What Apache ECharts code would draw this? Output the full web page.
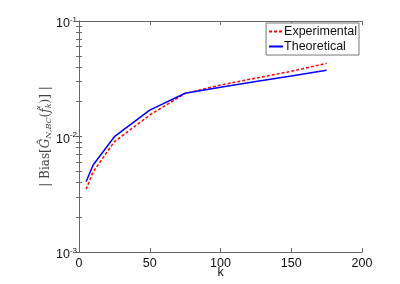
<!DOCTYPE html>
<html>
<head>
<meta charset="utf-8">
<script src="https://cdn.jsdelivr.net/npm/echarts@6/dist/echarts.min.js"></script>
<style>html,body{margin:0;padding:0;background:#fff;}#c{width:400px;height:284px;}</style>
</head>
<body>
<div id="c"></div>
<script>
const kValues = [5, 10, 25, 50, 75, 100, 125, 150, 175];
const experimental = [0.00349, 0.00495, 0.00902, 0.01535, 0.0236, 0.0279, 0.0320, 0.0367, 0.0430];
const theoretical = [0.00406, 0.00566, 0.00996, 0.01694, 0.02366, 0.0267, 0.0299, 0.0334, 0.0375];
const yMajorTicks = [0.001, 0.01, 0.1];
const xTicks = [0, 50, 100, 150, 200];

const yMinorTicks = [];
[0.001, 0.01].forEach(b => { for (let i = 1; i <= 10; i++) yMinorTicks.push(+(b * i).toPrecision(3)); });

const chart = echarts.init(document.getElementById('c'), null, {renderer: 'canvas'});
const axisColor = '#666';
const supFmt = v => '{b|10}{s|' + Math.round(Math.log10(v)) + '}';
const yLabelRich = {
  b: {fontSize: 12.5, fontFamily: 'Liberation Sans', color: '#111'},
  s: {fontSize: 8, fontFamily: 'Liberation Sans', color: '#111', padding: [0, 0, 9, 0]}
};
chart.setOption({
  animation: false,
  grid: {left: 79, right: 38, top: 21, bottom: 32, containLabel: false, outerBoundsMode: 'none'},
  legend: {
    right: 41, top: 23, orient: 'vertical',
    borderColor: '#777', borderWidth: 1, borderRadius: 0,
    padding: [2, 2, 2, 2], itemGap: 2, itemWidth: 14, itemHeight: 12,
    itemStyle: {opacity: 0},
    textStyle: {fontSize: 12.5, fontFamily: 'Liberation Sans', color: '#111', padding: [0, 0, 0, -4]},
    backgroundColor: '#fff',
    data: ['Experimental', 'Theoretical']
  },
  xAxis: [{
    type: 'value', min: 0, max: 200, interval: 50,
    name: 'k', nameLocation: 'middle', nameGap: 14, nameMoveOverlap: false,
    nameTextStyle: {fontSize: 12.5, fontFamily: 'Liberation Sans', color: '#111'},
    axisLine: {show: true, lineStyle: {color: axisColor, width: 1}},
    axisTick: {show: true, inside: true, length: 4, lineStyle: {color: axisColor}},
    axisLabel: {fontSize: 12.5, fontFamily: 'Liberation Sans', color: '#111', margin: 5},
    splitLine: {show: false}
  }, {
    type: 'value', min: 0, max: 200, interval: 50, position: 'top',
    axisLine: {show: true, lineStyle: {color: axisColor, width: 1}},
    axisTick: {show: true, inside: true, length: 4, lineStyle: {color: axisColor}},
    axisLabel: {show: false}, splitLine: {show: false}
  }],
  yAxis: [{
    type: 'log', logBase: 10, min: 0.001, max: 0.1,
    name: '{t|| Bias[}{i|Ĝ}{sub|N,BC}{t|(}{i|f̃}{sub|k}{t|)] |}',
    nameLocation: 'middle', nameGap: 26, nameRotate: 90, nameMoveOverlap: false,
    nameTextStyle: {
      rich: {
        t: {fontSize: 12, fontFamily: 'DejaVu Serif', color: '#444'},
        i: {fontSize: 12, fontFamily: 'DejaVu Serif', fontStyle: 'italic', color: '#444'},
        sub: {fontSize: 8, fontFamily: 'DejaVu Serif', fontStyle: 'italic', color: '#444', padding: [6, 0, 0, 0]}
      }
    },
    axisLine: {show: true, lineStyle: {color: axisColor, width: 1}},
    axisTick: {show: true, inside: true, length: 3, customValues: yMinorTicks, lineStyle: {color: axisColor}},
    axisLabel: {customValues: yMajorTicks, formatter: supFmt, rich: yLabelRich, margin: 2, padding: [6, 0, 0, 0]},
    splitLine: {show: false}
  }, {
    type: 'log', logBase: 10, min: 0.001, max: 0.1, position: 'right',
    axisLine: {show: true, lineStyle: {color: axisColor, width: 1}},
    axisTick: {show: true, inside: true, length: 3, customValues: yMinorTicks, lineStyle: {color: axisColor}},
    axisLabel: {show: false}, splitLine: {show: false}
  }],
  series: [{
    name: 'Experimental', type: 'line', xAxisIndex: 0, yAxisIndex: 0,
    data: kValues.map((k, i) => [k, experimental[i]]),
    symbol: 'none', color: '#ff0000',
    lineStyle: {color: '#ff0000', width: 1.5, type: [3, 2]}
  }, {
    name: 'Theoretical', type: 'line', xAxisIndex: 0, yAxisIndex: 0,
    data: kValues.map((k, i) => [k, theoretical[i]]),
    symbol: 'none', color: '#0000ff',
    lineStyle: {color: '#0000ff', width: 1.5}
  }]
});
</script>
</body>
</html>
